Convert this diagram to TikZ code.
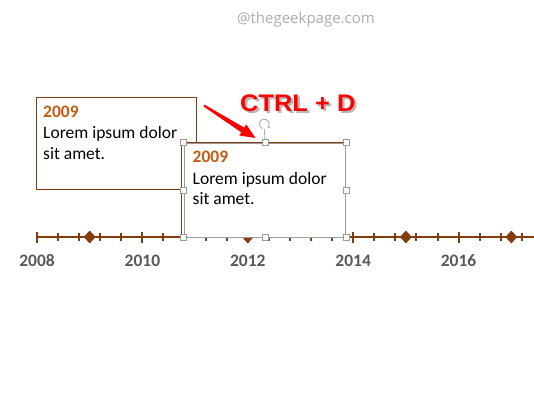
\documentclass[tikz,border=0pt]{standalone}
\usepackage{fontspec}
\setmainfont{Carlito}
\newfontfamily\ctrlfont[FakeStretch=1.06]{Liberation Sans}
\newfontfamily\markfont{Open Sans}
\usetikzlibrary{shapes.geometric,calc,arrows.meta}
\definecolor{linebrown}{HTML}{843C0C}
\definecolor{yearorange}{HTML}{C55A11}
\definecolor{labelgray}{HTML}{595959}
\definecolor{framegray}{HTML}{9C9C9C}
\definecolor{markgray}{HTML}{ADADAD}
\definecolor{ctrlred}{HTML}{FF0000}

\begin{document}
\begin{tikzpicture}[x=1pt,y=-1pt]
\tikzstyle{card}=[rectangle, draw=linebrown, fill=white, line width=1, inner sep=0pt, minimum width=160, minimum height=92.5]
\tikzstyle{yeartext}=[anchor=base west, inner sep=0pt, text=yearorange, font=\fontsize{17.5}{21}\selectfont\bfseries]
\tikzstyle{bodytext}=[anchor=base west, inner sep=0pt, text=black, font=\fontsize{17.5}{21}\selectfont]
\tikzstyle{axislabel}=[anchor=base, inner sep=0pt, text=labelgray, font=\fontsize{17.5}{21}\selectfont\bfseries]
\tikzstyle{milestone}=[diamond, fill=linebrown, inner sep=0pt, minimum width=12, minimum height=13]
\tikzstyle{tick}=[draw=linebrown, line width=2]
\tikzstyle{grip}=[rectangle, draw=framegray, fill=white, line width=0.8, inner sep=0pt, minimum size=6]
\tikzstyle{ctrltext}=[anchor=base west, inner sep=0pt, font=\ctrlfont\fontsize{24}{28}\selectfont\bfseries]
\useasboundingbox (0,0) rectangle (534,403);

% watermark
\node[anchor=base, inner sep=0pt, text=markgray, font=\markfont\fontsize{15}{18}\selectfont] (site) at (306,23.5) {@thegeekpage.com};

% first card
\node[card] (oldcard) at (116.4,143.5) {};
\node[yeartext] (oldyear) at (43,117.3) {2009};
\node[bodytext] (oldline1) at (43,139) {Lorem ipsum dolor};
\node[bodytext] (oldline2) at (43,159.3) {sit amet.};

% time axis
\coordinate (start) at (36,237);
\coordinate (stop) at (534,237);
\draw[tick] (start) -- (stop);
\foreach \k in {0,...,23}
  \draw[tick] (37+21.08*\k,233.3) -- (37+21.08*\k,240.7);
\foreach \k in {0,5,10,15,20}
  \draw[tick] (37+21.08*\k,231.5) -- (37+21.08*\k,242.7);
\foreach \nm/\x in {a/89.7, b/247.8, c/405.9, d/511.3}
  \node[milestone] (ms\nm) at (\x,237) {};
\foreach \yr [count=\i from 0] in {2008,2010,2012,2014,2016}
  \node[axislabel] (yr\yr) at (37+105.4*\i,266) {\yr};

% copied card, selected
\node[rectangle, draw=framegray, fill=white, line width=1, inner sep=0pt, minimum width=161.4, minimum height=94] (newcard) at (265,190.3) {};
\draw[linebrown, line width=1] ($(newcard.south west)+(-2,0)$) |- (newcard.north east);
\node[yeartext] (newyear) at (192.5,162.9) {2009};
\node[bodytext] (newline1) at (192.5,184.3) {Lorem ipsum dolor};
\node[bodytext] (newline2) at (192.5,204.3) {sit amet.};
\foreach \a [count=\i] in {north west,north,north east,west,east,south west,south,south east}
  \node[grip] (grip\i) at (newcard.\a) {};
\node[circle, inner sep=0pt, minimum size=10] (turn) at (264.3,124) {};
\draw[framegray!80, line width=0.9] (turn) -- (grip2);
\draw[framegray!80, line width=0.9, -{Stealth[length=2.5,width=3.2]}] (turn.center) ++(110:5) arc (110:410:5);

% shortcut label
\node[ctrltext, text=black!28] (ctrlshadow) at (242.3,113.6) {CTRL + D};
\node[ctrltext, text=ctrlred] (ctrlkey) at (240,111.4) {CTRL + D};

% pointer arrow
\coordinate (arrowtail) at (204,105.5);
\coordinate (arrowtip) at (255.5,138);
\coordinate (arrowbase) at ($(arrowtip)!15pt!(arrowtail)$);
\fill[ctrlred] ($(arrowtail)!1pt!90:(arrowtip)$) -- ($(arrowbase)!2.8pt!90:(arrowtip)$)
  -- ($(arrowbase)!6.5pt!90:(arrowtip)$) -- (arrowtip) -- ($(arrowbase)!6.5pt!-90:(arrowtip)$)
  -- ($(arrowbase)!2.8pt!-90:(arrowtip)$) -- ($(arrowtail)!1pt!-90:(arrowtip)$) -- cycle;
\end{tikzpicture}
\end{document}
